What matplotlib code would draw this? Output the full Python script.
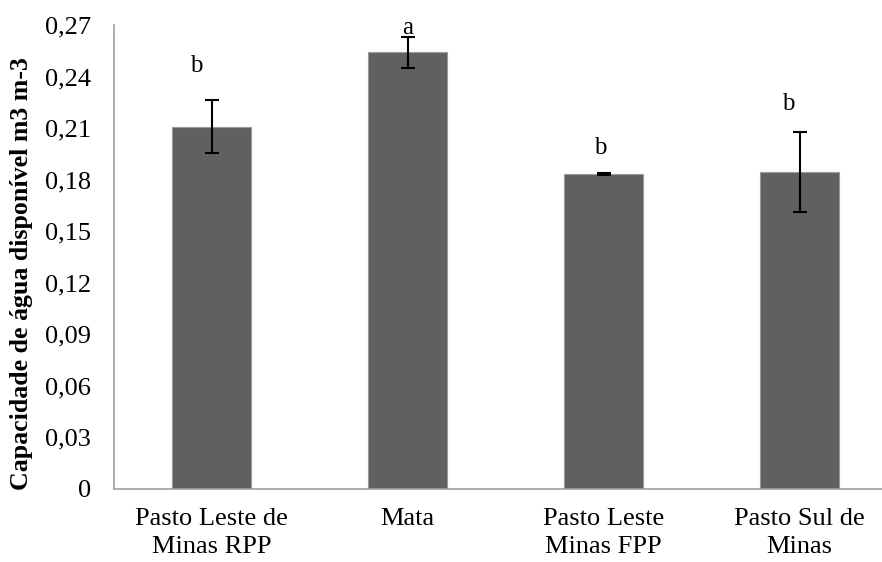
import matplotlib
matplotlib.use("Agg")
import matplotlib.pyplot as plt
import numpy as np

categories = ["Pasto Leste de\nMinas RPP", "Mata", "Pasto Leste\nMinas FPP", "Pasto Sul de\nMinas"]
values = [0.2108, 0.2541, 0.1833, 0.1843]
errors = [0.0153, 0.0092, 0.0005, 0.0233]
letters = ["b", "a", "b", "b"]
letter_y = [0.2461, 0.2683, 0.1984, 0.2240]
letter_dx = [-0.077, 0.0, -0.015, -0.055]
yticks = [0, 0.03, 0.06, 0.09, 0.12, 0.15, 0.18, 0.21, 0.24, 0.27]
ytick_labels = ["0", "0,03", "0,06", "0,09", "0,12", "0,15", "0,18", "0,21", "0,24", "0,27"]

plt.rcParams['font.family'] = ['Liberation Serif', 'DejaVu Serif']

fig = plt.figure(figsize=(8.82, 5.62), dpi=100)
ax = fig.add_axes([0.1287, 0.1299, 1.0176 - 0.1287, 0.9555 - 0.1299])

x = np.arange(len(categories))
ax.bar(x, values, width=0.4, color="#606060", edgecolor="#9a9a9a", linewidth=0.8, zorder=2)
ax.errorbar(x, values, yerr=errors, fmt="none", ecolor="black", elinewidth=1.5,
            capsize=4.7, capthick=1.5, zorder=3)

for xi, dx, ly, lt in zip(x, letter_dx, letter_y, letters):
    ax.text(xi + dx, ly, lt, ha="center", va="center", fontsize=18, zorder=4)

ax.set_xlim(-0.5, len(categories) - 0.5)
ax.set_ylim(0, 0.27)
ax.set_yticks(yticks)
ax.set_yticklabels(ytick_labels)
ax.set_xticks(x)
ax.set_xticklabels(categories, linespacing=1.3)
ax.tick_params(axis="y", length=0, pad=16, labelsize=19)
ax.tick_params(axis="x", length=0, pad=14, labelsize=19)

for s in ["top", "right"]:
    ax.spines[s].set_visible(False)
for s in ["left", "bottom"]:
    ax.spines[s].set_color("#a0a0a0")
    ax.spines[s].set_linewidth(1.2)

ax.set_ylabel("Capacidade de água disponível m3 m-3", fontsize=18.6, fontweight="bold")
ax.yaxis.set_label_coords(-0.103, 0.464)

fig.savefig("out.png", dpi=100)
